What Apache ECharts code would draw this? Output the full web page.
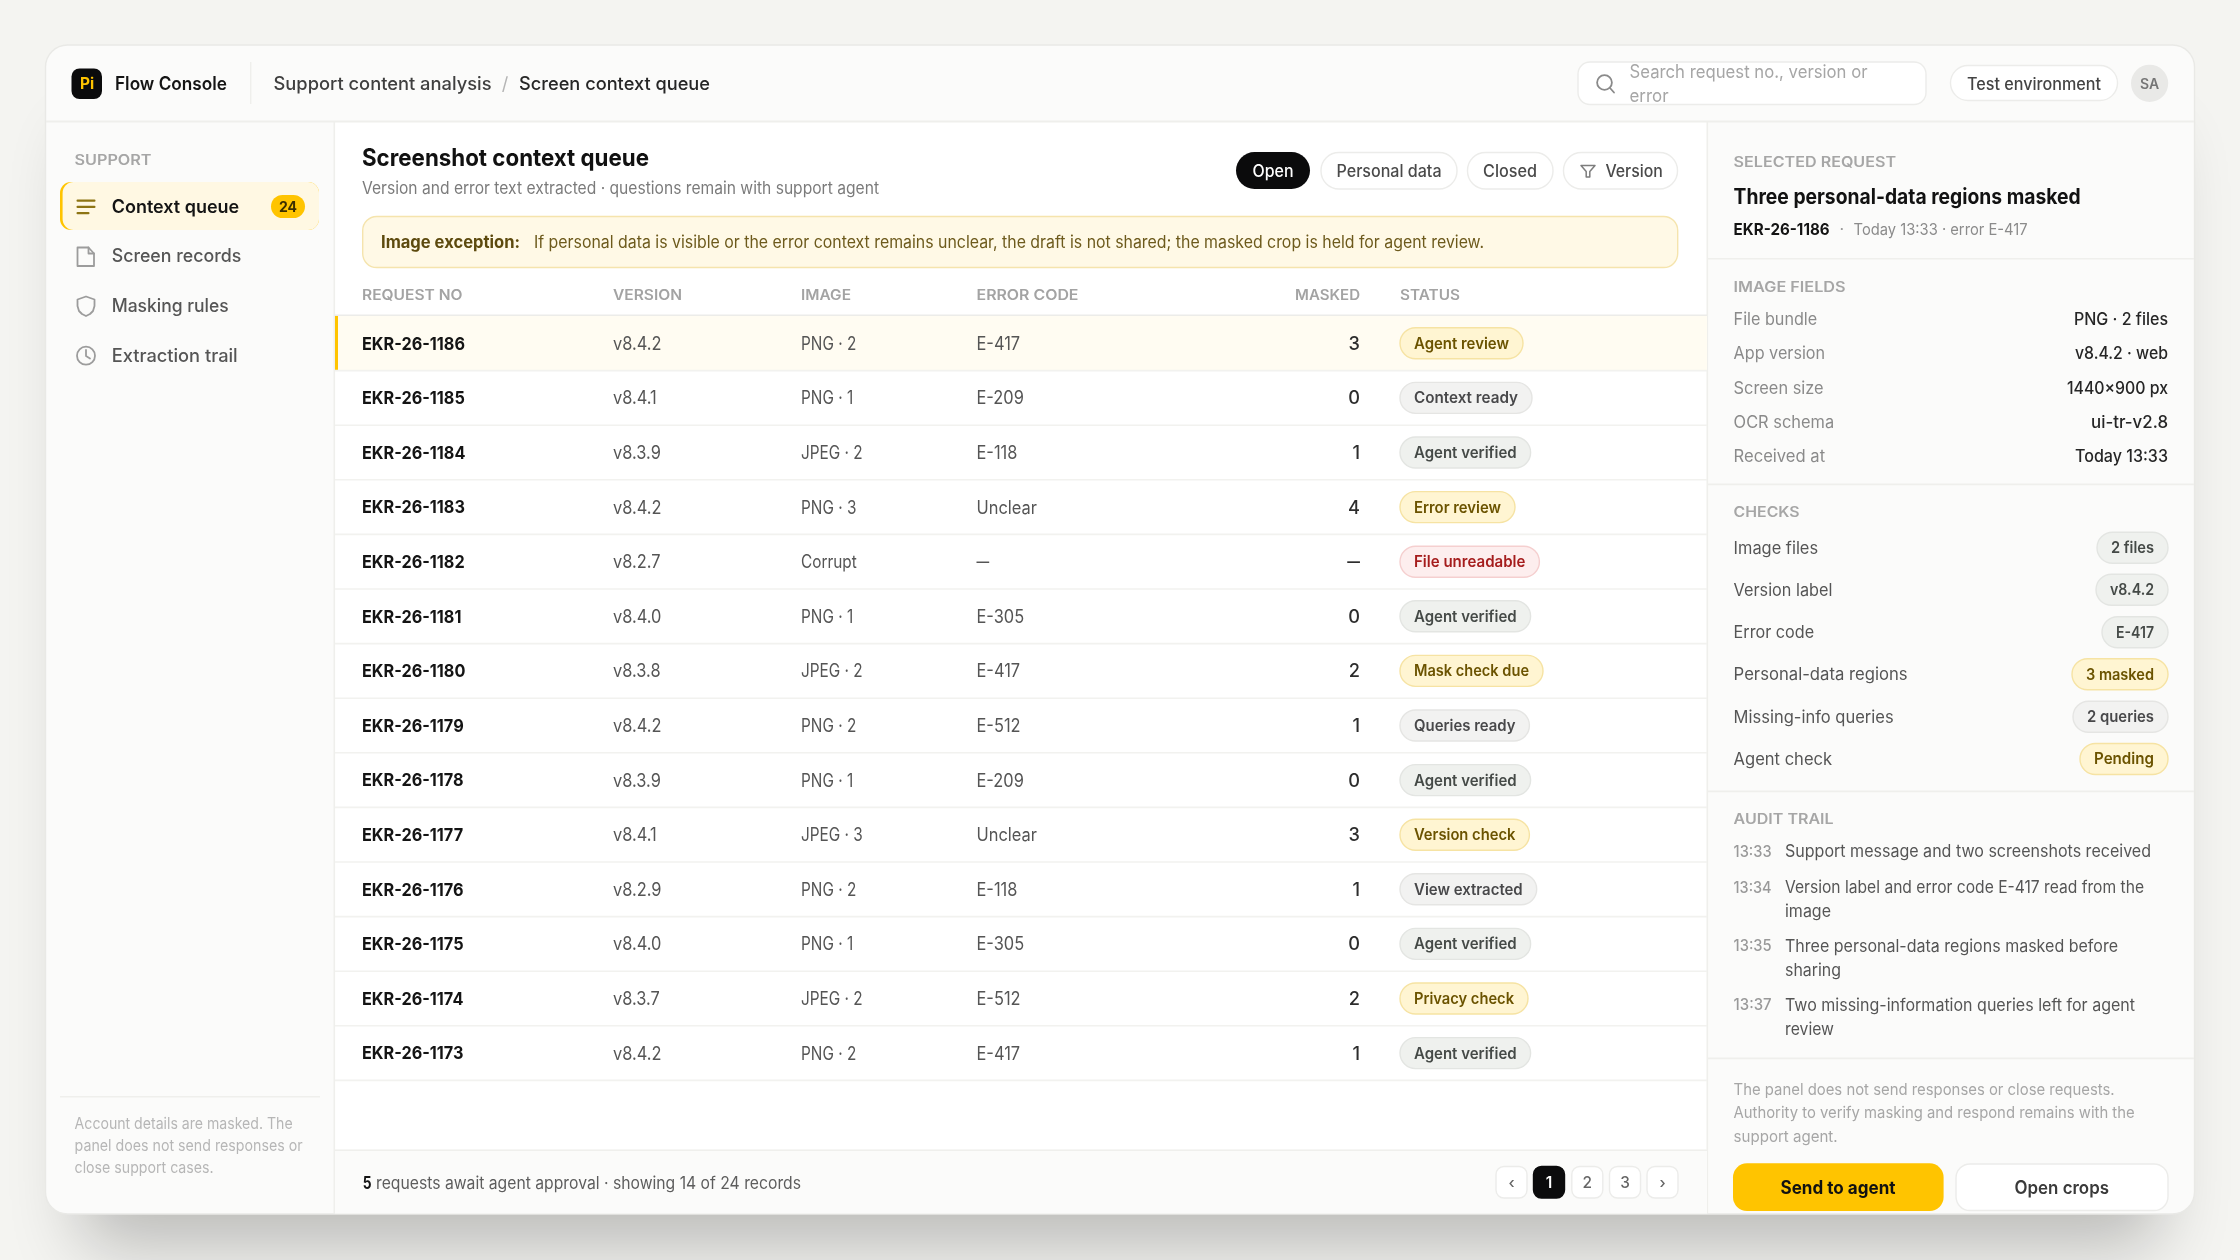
<!DOCTYPE html>
<html>
<head>
<meta charset="utf-8">
<title>Flow Console</title>
<style>
html, body { margin: 0; padding: 0; background: #f4f4f1; }
#main { width: 2240px; height: 1260px; }
</style>
<script src="https://cdn.jsdelivr.net/npm/echarts@6/dist/echarts.min.js"></script>
</head>
<body>
<div id="main"></div>
<script>
// table rows
var requestNos = ['EKR-26-1186', 'EKR-26-1185', 'EKR-26-1184', 'EKR-26-1183', 'EKR-26-1182', 'EKR-26-1181', 'EKR-26-1180',
    'EKR-26-1179', 'EKR-26-1178', 'EKR-26-1177', 'EKR-26-1176', 'EKR-26-1175', 'EKR-26-1174', 'EKR-26-1173'];
var versions = ['v8.4.2', 'v8.4.1', 'v8.3.9', 'v8.4.2', 'v8.2.7', 'v8.4.0', 'v8.3.8', 'v8.4.2', 'v8.3.9', 'v8.4.1', 'v8.2.9', 'v8.4.0', 'v8.3.7', 'v8.4.2'];
var images = ['PNG · 2', 'PNG · 1', 'JPEG · 2', 'PNG · 3', 'Corrupt', 'PNG · 1', 'JPEG · 2', 'PNG · 2', 'PNG · 1', 'JPEG · 3', 'PNG · 2', 'PNG · 1', 'JPEG · 2', 'PNG · 2'];
var errorCodes = ['E-417', 'E-209', 'E-118', 'Unclear', '—', 'E-305', 'E-417', 'E-512', 'E-209', 'Unclear', 'E-118', 'E-305', 'E-512', 'E-417'];
var masked = [3, 0, 1, 4, null, 0, 2, 1, 0, 3, 1, 0, 2, 1];
var statuses = ['Agent review', 'Context ready', 'Agent verified', 'Error review', 'File unreadable', 'Agent verified', 'Mask check due',
    'Queries ready', 'Agent verified', 'Version check', 'View extracted', 'Agent verified', 'Privacy check', 'Agent verified'];
var columnNames = ['REQUEST NO', 'VERSION', 'IMAGE', 'ERROR CODE', 'MASKED', 'STATUS'];

// right panel
var fieldLabels = ['File bundle', 'App version', 'Screen size', 'OCR schema', 'Received at'];
var fieldValues = ['PNG · 2 files', 'v8.4.2 · web', '1440×900 px', 'ui-tr-v2.8', 'Today 13:33'];
var checkLabels = ['Image files', 'Version label', 'Error code', 'Personal-data regions', 'Missing-info queries', 'Agent check'];
var checkValues = ['2 files', 'v8.4.2', 'E-417', '3 masked', '2 queries', 'Pending'];
var auditTimes = ['13:33', '13:34', '13:35', '13:37'];
var auditLines = [
    ['Support message and two screenshots received'],
    ['Version label and error code E-417 read from the', 'image'],
    ['Three personal-data regions masked before', 'sharing'],
    ['Two missing-information queries left for agent', 'review']
];
var noteLines = ['The panel does not send responses or close requests.', 'Authority to verify masking and respond remains with the', 'support agent.'];
var navItems = ['Context queue', 'Screen records', 'Masking rules', 'Extraction trail'];
var sideNote = ['Account details are masked. The', 'panel does not send responses or', 'close support cases.'];
var pages = ['‹', '1', '2', '3', '›'];

var FONT = 'Inter, "Noto Sans", sans-serif';
var YELLOW = '#ffc400';
var LINE = '#efefec';
var TEXT_NUDGE = 2; // Inter sits a little higher than the original face

var tones = {
    amber: { fill: '#fff5d2', stroke: '#f6e3a3', text: '#6b5300' },
    red: { fill: '#fdeeee', stroke: '#f5cfcf', text: '#a51d1d' },
    green: { fill: '#eff1ee', stroke: '#e3e5e2', text: '#454a47' },
    grey: { fill: '#f2f2f1', stroke: '#e5e5e3', text: '#48484a' }
};
var statusTone = {
    'Agent review': 'amber', 'Error review': 'amber', 'Mask check due': 'amber', 'Version check': 'amber', 'Privacy check': 'amber',
    'File unreadable': 'red', 'Agent verified': 'green'
};
var checkTone = { '3 masked': 'amber', 'Pending': 'amber', '2 queries': 'grey', '2 files': 'green', 'v8.4.2': 'green', 'E-417': 'green' };
// text widths of the pills
var pillTextW = {
    'Agent review': 95, 'Context ready': 104, 'Agent verified': 102.6, 'Error review': 87, 'File unreadable': 111.4, 'Mask check due': 115,
    'Queries ready': 101.4, 'Version check': 101.4, 'View extracted': 108.7, 'Privacy check': 100,
    '2 files': 43, 'v8.4.2': 44, 'E-417': 38, '3 masked': 68, '2 queries': 67, 'Pending': 60
};

var measureCtx = document.createElement('canvas').getContext('2d');
function textWidth(t, size, weight) {
    measureCtx.font = weight + ' ' + size + 'px Inter';
    return measureCtx.measureText(t).width;
}
// w is the width the text should take, it squeezes the glyphs to that width
function label(x, y, t, size, weight, color, w, align) {
    return {
        type: 'text', x: x, y: y + TEXT_NUDGE, silent: true,
        scaleX: w ? w / textWidth(t, size, weight) : 1,
        style: {
            text: t, fontFamily: FONT, fontSize: size, fontWeight: weight, fill: color,
            align: align || 'left', verticalAlign: 'middle', textAlign: align || 'left', textVerticalAlign: 'middle'
        }
    };
}
function box(x, y, w, h, fill, r, stroke) {
    return {
        type: 'rect', silent: true, shape: { x: x, y: y, width: w, height: h, r: r || 0 },
        style: { fill: fill, stroke: stroke || null, lineWidth: stroke ? 1.4 : 0 }
    };
}
function outline(type, points, color, lw) {
    return {
        type: type, silent: true, shape: { points: points },
        style: { fill: 'none', stroke: color, lineWidth: lw || 2, lineJoin: 'round', lineCap: 'round' }
    };
}

// per style width factors, so the rows keep the widths of the reference
var reqScale = 103 / textWidth('EKR-26-1186', 17.5, 700);
var cellScale = 48.5 / textWidth('v8.4.2', 18.2, 400);
var imageScale = 61.7 / textWidth('JPEG · 2', 18.2, 400);

function pill(x, cy, t, tone, alignRight) {
    var tw = pillTextW[t];
    var w = tw + 28;
    var left = alignRight ? x - w : x;
    var c = tones[tone];
    return [
        box(left, cy - 15.5, w, 31, c.fill, 15.5, c.stroke),
        label(left + 14, cy - 1.2, t, 15.4, 600, c.text, tw)
    ];
}

function chrome() {
    var g = [];
    // card
    g.push({
        type: 'rect', silent: true, shape: { x: 80, y: 90, width: 2080, height: 1110, r: 22 },
        style: { fill: '#fbfbfa', shadowBlur: 70, shadowOffsetY: 46, shadowColor: 'rgba(0,0,0,0.24)' }
    });
    g.push(box(45.5, 45, 2149, 1169, '#fbfbfa', 22, '#e9e9e6'));
    g.push(box(335, 122, 1372, 1028, '#ffffff'));
    g.push(box(46, 120.5, 2148, 2, LINE));
    g.push(box(333.5, 122, 1.6, 1091, LINE));
    g.push(box(1706.5, 122, 1.6, 1091, LINE));

    // top bar
    g.push(box(71.5, 68.5, 30.5, 30.5, '#0b0b0c', 8));
    g.push(label(87, 82.5, 'Pi', 15.4, 700, YELLOW, 0, 'center'));
    g.push(label(115, 82.5, 'Flow Console', 18.2, 600, '#141414', 112));
    g.push(box(250, 62, 1.4, 42, LINE));
    g.push(label(273.5, 83, 'Support content analysis', 18.2, 500, '#3f3f3f', 218));
    g.push(label(505, 83, '/', 18.2, 400, '#b5b5b5', 0, 'center'));
    g.push(label(519, 83, 'Screen context queue', 18.2, 500, '#262626', 191));
    g.push(box(1578, 62, 348, 42.5, '#ffffff', 12, '#ececea'));
    g.push({ type: 'circle', silent: true, shape: { cx: 1604.5, cy: 82.5, r: 7.4 }, style: { fill: 'none', stroke: '#8a8a8a', lineWidth: 1.8 } });
    g.push(outline('polyline', [[1610, 88], [1614, 92.5]], '#8a8a8a', 1.8));
    g.push(label(1629.5, 70.5, 'Search request no., version or', 18.2, 400, '#a6a6a6', 238));
    g.push(label(1629.5, 95, 'error', 18.2, 400, '#a6a6a6', 39));
    g.push(box(1950.5, 65.5, 167, 35, '#ffffff', 17.5, '#ececea'));
    g.push(label(1967, 82.5, 'Test environment', 16.8, 500, '#444444', 134));
    g.push({ type: 'circle', silent: true, shape: { cx: 2149.6, cy: 83.3, r: 18.6 }, style: { fill: '#e9e9e7' } });
    g.push(label(2149.6, 82.5, 'SA', 14, 600, '#757575', 0, 'center'));

    // sidebar
    g.push(label(74.5, 158.5, 'SUPPORT', 14, 600, '#a6a6a6', 77));
    g.push(box(60, 182, 259, 48, YELLOW, 11));
    g.push(box(62.6, 182, 256.4, 48, '#fff8e3', 11));
    g.push(box(76.5, 199.5, 19, 2.2, '#8d7413', 1));
    g.push(box(76.5, 205.8, 19, 2.2, '#8d7413', 1));
    g.push(box(76.5, 212, 13, 2.2, '#8d7413', 1));
    var navY = [205.5, 255, 305, 355];
    var navW = [127.5, 129.5, 117, 126];
    navItems.forEach(function (n, i) {
        g.push(label(111.7, navY[i], n, 18.2, i === 0 ? 600 : 500, i === 0 ? '#141414' : '#555555', navW[i]));
    });
    g.push(box(271, 195, 34, 23, YELLOW, 11.5));
    g.push(label(288, 205.5, '24', 14, 700, '#3b2e00', 0, 'center'));
    g.push(outline('polygon', [[77.5, 247.5], [88.5, 247.5], [94, 253.5], [94, 266], [77.5, 266]], '#9c9c9c', 1.8));
    g.push(outline('polyline', [[88.5, 247.5], [88.5, 253.5], [94, 253.5]], '#9c9c9c', 1.8));
    g.push(outline('polygon', [[86, 296.5], [94.5, 299.5], [94.5, 306], [93, 311], [90, 314], [86, 316], [82, 314], [79, 311], [77.5, 306], [77.5, 299.5]], '#9c9c9c', 1.8));
    g.push({ type: 'circle', silent: true, shape: { cx: 86, cy: 355.7, r: 9 }, style: { fill: 'none', stroke: '#9c9c9c', lineWidth: 1.8 } });
    g.push(outline('polyline', [[86, 350], [86, 356], [90, 358.5]], '#9c9c9c', 1.8));
    g.push(box(60, 1096, 260, 1.6, LINE));
    var sideW = [218, 228, 139];
    sideNote.forEach(function (t, i) {
        g.push(label(74.6, 1122.5 + i * 22, t, 15.4, 400, '#b6b6b6', sideW[i]));
    });

    // queue heading
    g.push(label(362, 156.5, 'Screenshot context queue', 23.8, 700, '#111111', 287));
    g.push(label(362, 187, 'Version and error text extracted · questions remain with support agent', 16.8, 400, '#7b7b7b', 517));
    g.push(box(1236, 152, 74, 37, '#0b0b0c', 18.5));
    g.push(label(1252.5, 170, 'Open', 16.8, 500, '#ffffff', 41));
    g.push(box(1321, 152.5, 136, 36.5, '#ffffff', 18, '#ececea'));
    g.push(label(1336.5, 170, 'Personal data', 16.8, 500, '#4a4a4a', 105));
    g.push(box(1467.5, 152.5, 85.5, 36.5, '#ffffff', 18, '#ececea'));
    g.push(label(1483, 170, 'Closed', 16.8, 500, '#4a4a4a', 54));
    g.push(box(1563.5, 152.5, 114, 36.5, '#ffffff', 18, '#ececea'));
    g.push(outline('polygon', [[1581, 165.5], [1595, 165.5], [1589.8, 171.6], [1589.8, 177], [1586.2, 177], [1586.2, 171.6]], '#7d7d7d', 1.5));
    g.push(label(1605.4, 170, 'Version', 16.8, 500, '#4a4a4a', 57.5));

    // exception banner
    g.push(box(362.7, 216.5, 1315, 51, '#fff9e6', 14, '#f5e4ad'));
    g.push(label(381, 241, 'Image exception:', 16.8, 700, '#5d4a0e', 139));
    g.push(label(534, 241, 'If personal data is visible or the error context remains unclear, the draft is not shared; the masked crop is held for agent review.', 16.8, 400, '#6d5a1c', 950));

    // footer
    g.push(box(335, 1149.5, 1372, 64, '#fbfbfa'));
    g.push(box(335, 1149.5, 1372, 1.6, LINE));
    g.push(label(362.8, 1182, '5', 16.8, 700, '#141414', 8.8));
    g.push(label(376, 1182, 'requests await agent approval · showing 14 of 24 records', 16.8, 400, '#5d5d5d', 425));
    var pageX = [1496, 1533.5, 1571.8, 1609.5, 1647];
    pages.forEach(function (p, i) {
        g.push(box(pageX[i], 1166.5, 31, 31.5, p === '1' ? '#0b0b0c' : '#ffffff', 8, p === '1' ? '#0b0b0c' : '#ececea'));
        g.push(label(pageX[i] + 15.5, 1181, p, 15.4, p === '1' ? 600 : 500, p === '1' ? '#ffffff' : '#666666', 0, 'center'));
    });

    // right panel
    var px = 1733.6, pr = 2168;
    g.push(label(px, 160.5, 'SELECTED REQUEST', 14, 600, '#a6a6a6', 162.5));
    g.push(label(px, 196, 'Three personal-data regions masked', 21, 700, '#121212', 347));
    g.push(label(px, 228, 'EKR-26-1186', 16, 700, '#141414', 96));
    g.push(label(1841.8, 228, '·', 16, 400, '#999999', 0, 'center'));
    g.push(label(1853.6, 228, 'Today 13:33 · error E-417', 16, 400, '#8b8b8b', 174));
    g.push(box(1708, 258, 486, 1.6, LINE));

    g.push(label(px, 285.5, 'IMAGE FIELDS', 14, 600, '#a6a6a6', 112));
    var fieldY = [318, 352.3, 386.7, 420.7, 455];
    var fieldLW = [83.6, 91.5, 90, 100.5, 91.5];
    var fieldVW = [94, 93, 101, 77, 93];
    fieldLabels.forEach(function (t, i) {
        g.push(label(px, fieldY[i], t, 16.8, 400, '#8a8a8a', fieldLW[i]));
        g.push(label(pr - fieldVW[i], fieldY[i], fieldValues[i], 16.8, 500, '#262626', fieldVW[i]));
    });
    g.push(box(1708, 483.6, 486, 1.6, LINE));

    g.push(label(px, 510.7, 'CHECKS', 14, 600, '#a6a6a6', 66));
    var checkY = [547.7, 589.7, 632.3, 674.3, 716.7, 759];
    var checkLW = [84.5, 98.8, 80.5, 174, 160, 98.5];
    checkLabels.forEach(function (t, i) {
        g.push(label(px, checkY[i] - 1, t, 16.8, 400, '#555555', checkLW[i]));
        pill(pr, checkY[i], checkValues[i], checkTone[checkValues[i]], true).forEach(function (e) { g.push(e); });
    });
    g.push(box(1708, 790.6, 486, 1.6, LINE));

    g.push(label(px, 818, 'AUDIT TRAIL', 14, 600, '#a6a6a6', 100));
    var auditY = [850, 886, 944.5, 1003.5];
    var auditW = [[366], [359, 46], [333, 56], [350, 49]];
    auditTimes.forEach(function (t, i) {
        g.push(label(px, auditY[i], t, 15.4, 500, '#999999', 38));
        auditLines[i].forEach(function (ln, j) {
            g.push(label(1785, auditY[i] + j * 24.4, ln, 16.8, 400, '#555555', auditW[i][j]));
        });
    });
    g.push(box(1708, 1057.6, 486, 1.6, LINE));

    var noteW = [381, 401, 104];
    noteLines.forEach(function (t, i) {
        g.push(label(px, 1088.5 + i * 23.3, t, 15.4, 400, '#a6a6a6', noteW[i]));
    });
    g.push(box(1733, 1163.3, 210.6, 47.7, YELLOW, 14));
    g.push(label(1780.5, 1186.3, 'Send to agent', 18.2, 700, '#111111', 115));
    g.push(box(1956, 1164, 212, 46.5, '#ffffff', 14, '#ececea'));
    g.push(label(2014.5, 1186.3, 'Open crops', 18.2, 600, '#3a3a3a', 94.5));
    return g;
}

var columnX = [27, 278, 466, 641.5, 1025, 1065];

function renderRow(params, api) {
    var i = params.dataIndex;
    var cy = api.coord([0, i])[1];
    var rowH = api.size([0, 1])[1];
    var colX = columnX.map(function (v) { return api.coord([v, i])[0]; });
    var left = api.coord([0, i])[0];
    var right = api.coord([1372, i])[0];
    var kids = [];
    if (i === 0) {
        kids.push(box(left, cy - rowH / 2, right - left, rowH, '#fffcf2'));
        kids.push(box(left, cy - rowH / 2, 3, rowH, YELLOW));
    }
    kids.push(box(left, cy + rowH / 2 - 0.8, right - left, 1.6, '#f2f2ef'));
    kids.push(label(colX[0], cy - 1, requestNos[i], 17.5, 700, '#141414', textWidth(requestNos[i], 17.5, 700) * reqScale));
    [versions[i], images[i], errorCodes[i]].forEach(function (t, k) {
        var s = k === 1 ? imageScale : cellScale;
        var w = t === '—' ? 12.7 : textWidth(t, 18.2, 400) * s;
        kids.push(label(colX[k + 1], cy - 1, t, 18.2, 400, '#555555', w));
    });
    var m = masked[i] == null ? '—' : String(masked[i]);
    kids.push(label(colX[4], cy - 1, m, 18.2, 500, '#2d2d2d', m === '—' ? 12.7 : 0, 'right'));
    pill(colX[5], cy, statuses[i], statusTone[statuses[i]] || 'grey').forEach(function (e) { kids.push(e); });
    return { type: 'group', children: kids };
}

var headerEls = columnNames.map(function (n, i) {
    var hw = [100.5, 69, 50, 102, 65, 60][i];
    return label(335 + columnX[i] + (i === 4 ? -hw : 0), 293.7, n, 14, 600, '#a3a3a3', hw);
});

var chart = echarts.init(document.getElementById('main'));
chart.setOption({
    animation: false,
    backgroundColor: '#f4f4f1',
    textStyle: { fontFamily: FONT },
    grid: { left: 335, top: 316, width: 1372, height: 764.4 },
    xAxis: { type: 'value', min: 0, max: 1372, show: false },
    yAxis: { type: 'category', inverse: true, data: requestNos, show: false },
    graphic: { elements: chrome().concat(headerEls).concat([box(335, 314.6, 1372, 1.6, '#ecece9')]) },
    series: [{
        type: 'custom',
        name: 'Queue',
        coordinateSystem: 'cartesian2d',
        clip: false,
        silent: true,
        encode: { x: 0, y: 1 },
        data: requestNos.map(function (n) { return [0, n]; }),
        renderItem: renderRow
    }]
});
</script>
</body>
</html>
